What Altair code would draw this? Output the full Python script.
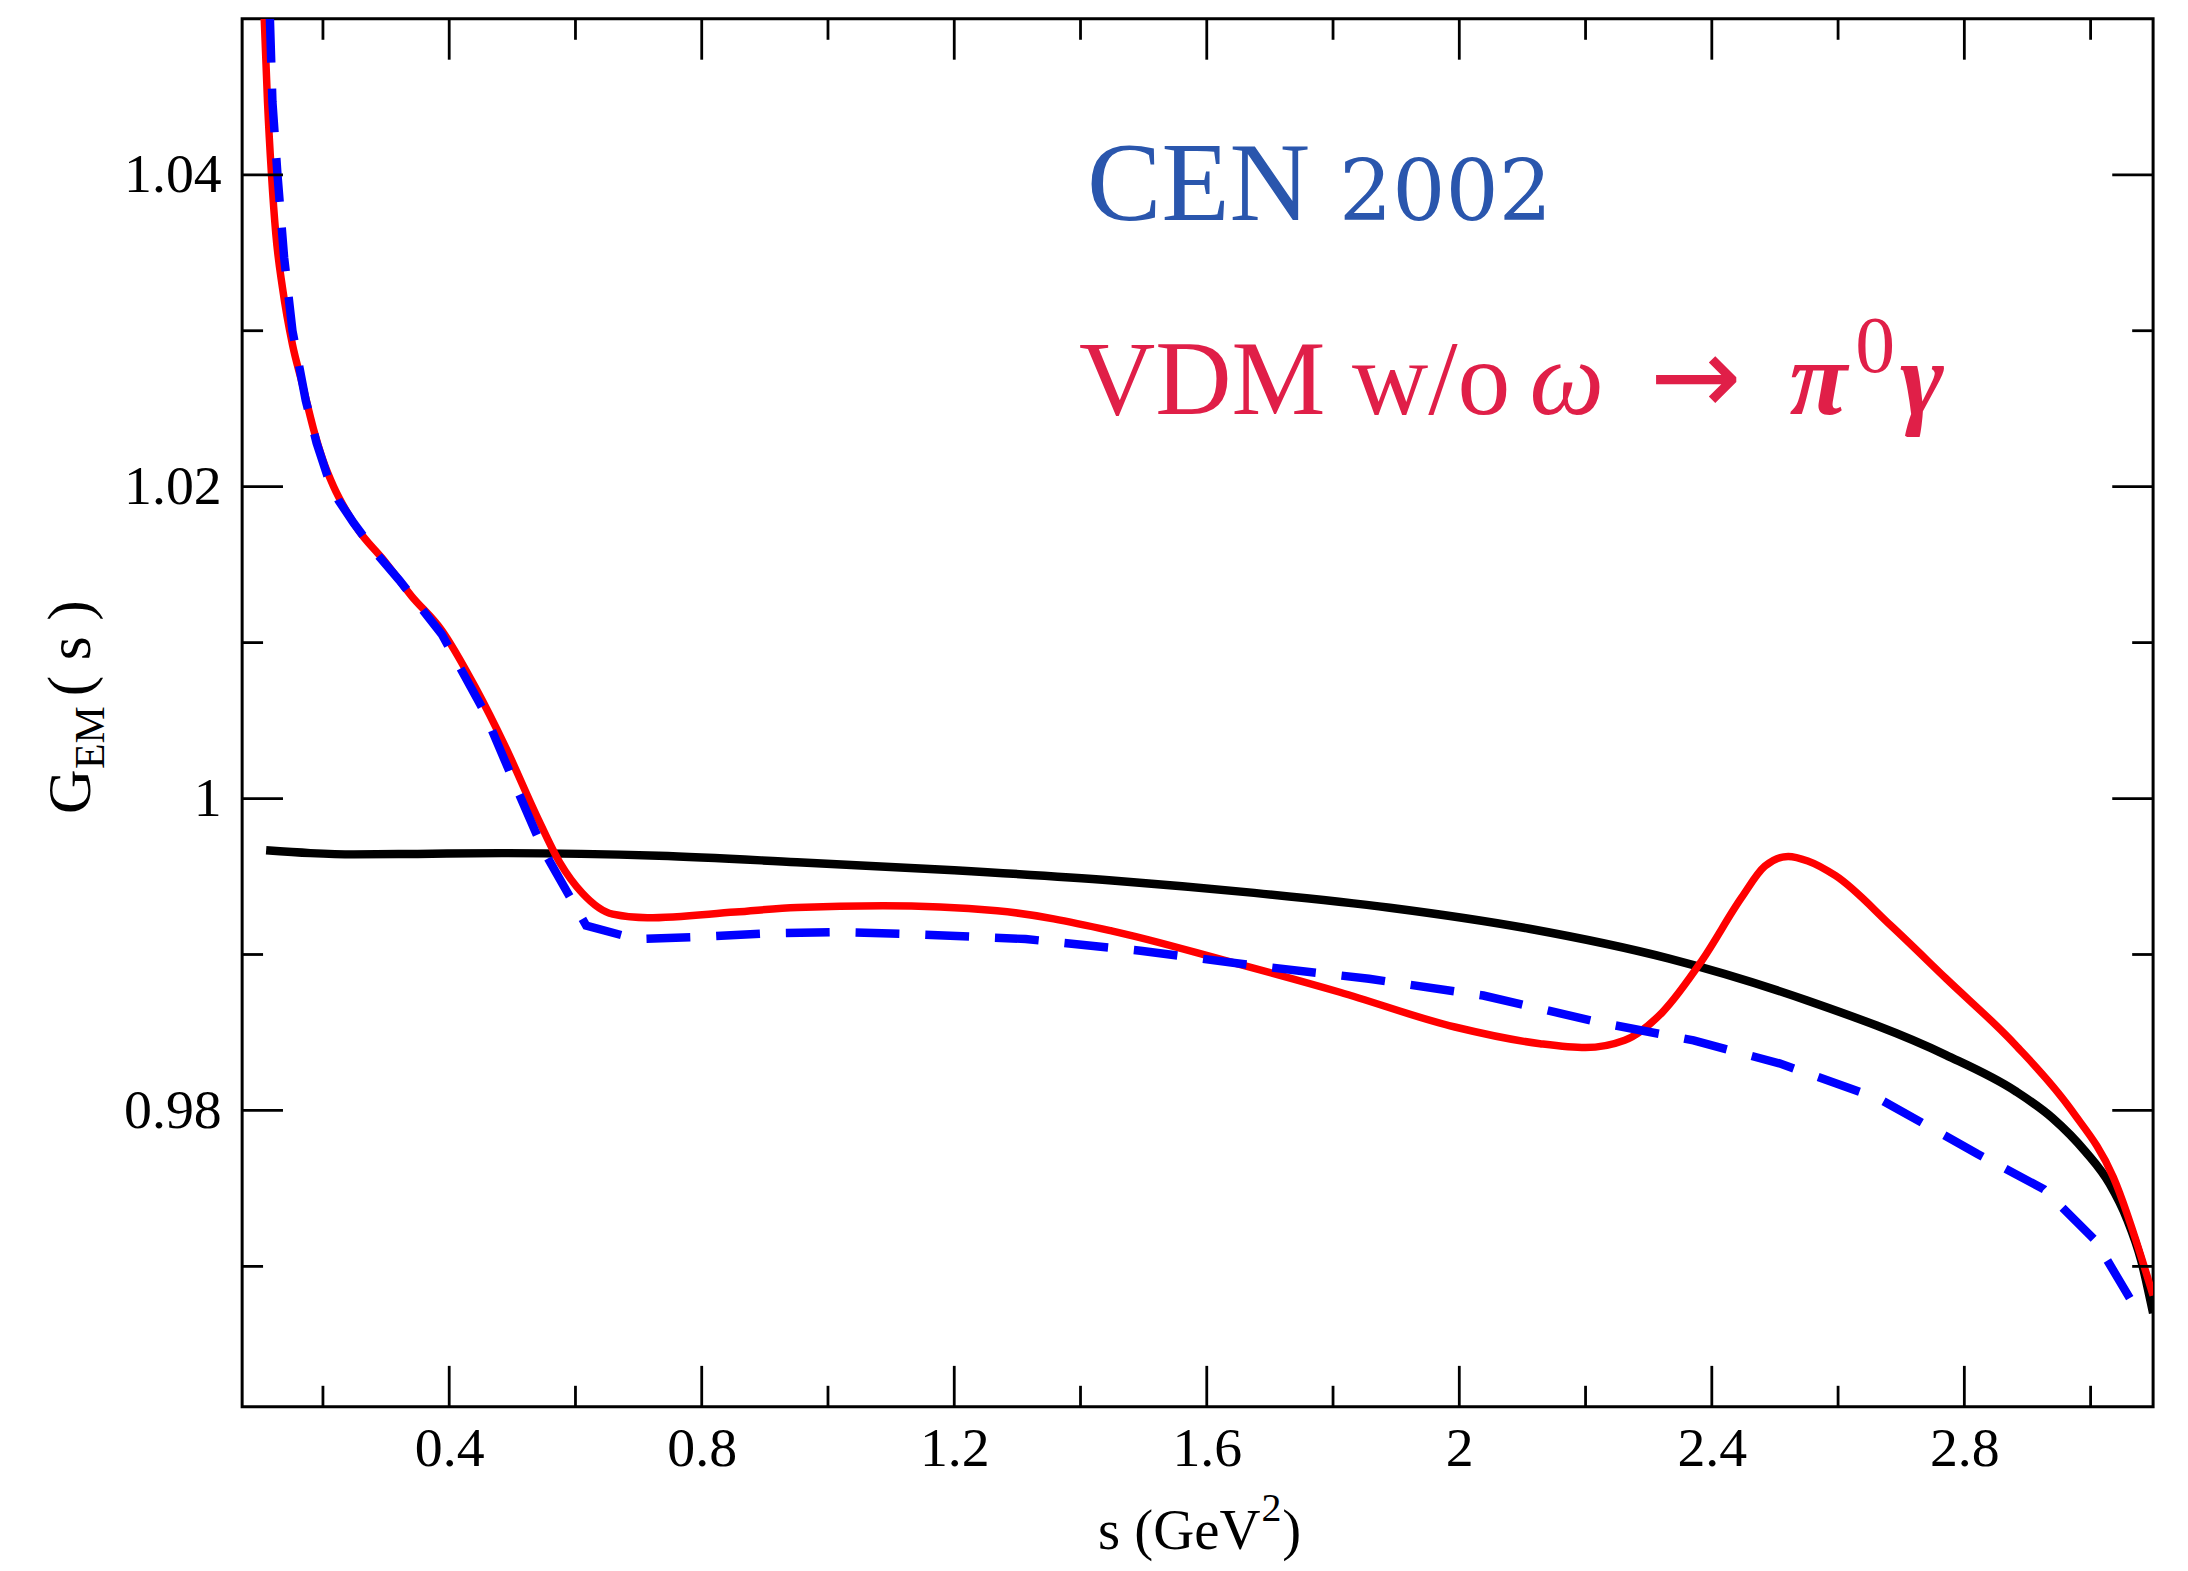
import altair as alt
import pandas as pd

# ---------------- data ----------------
s_black = [0.110, 0.18, 0.249, 0.35, 0.49, 0.732, 0.951, 1.2, 1.45, 1.675, 1.89, 2.111,
           2.331, 2.551, 2.771, 2.881, 2.940, 2.992, 3.030, 3.058, 3.080, 3.099]
g_black = [0.99668, 0.99650, 0.99642, 0.99645, 0.99650, 0.99633, 0.99592, 0.99540, 0.99475,
           0.99395, 0.99300, 0.99165, 0.98975, 0.98705, 0.98355, 0.98124, 0.97950, 0.97735,
           0.97530, 0.97300, 0.97040, 0.96700]

s_red = [0.107, 0.1122, 0.1185, 0.1254, 0.1359, 0.1517, 0.1675, 0.185, 0.200, 0.217, 0.237,
         0.257, 0.294, 0.340, 0.388, 0.441, 0.490, 0.539, 0.575, 0.611, 0.659, 0.714, 0.853,
         0.951, 1.087, 1.268, 1.449, 1.630, 1.811, 1.993, 2.128, 2.200, 2.262, 2.322, 2.384,
         2.447, 2.484, 2.521, 2.552, 2.596, 2.684, 2.771, 2.881, 2.970, 3.036, 3.099]
g_red = [1.0500, 1.04466, 1.0400, 1.03617, 1.03275, 1.02911, 1.02656, 1.0237, 1.0217, 1.0200,
         1.01845, 1.01717, 1.0154, 1.0130, 1.0108, 1.00716, 1.00323, 0.99885, 0.99591, 0.99393,
         0.99259, 0.99235, 0.99272, 0.99302, 0.99312, 0.99280, 0.99152, 0.98961, 0.98758,
         0.98535, 0.98428, 0.98403, 0.98450, 0.98631, 0.98959, 0.99364, 0.99566, 0.99629,
         0.99600, 0.99505, 0.99184, 0.98846, 0.98420, 0.98000, 0.97572, 0.96813]

s_blue = [0.116, 0.120, 0.128, 0.1385, 0.1517, 0.1727, 0.190, 0.207, 0.225, 0.249, 0.285,
          0.321, 0.388, 0.454, 0.508, 0.550, 0.617, 0.696, 0.792, 0.913, 1.014, 1.132, 1.313,
          1.495, 1.675, 1.857, 2.038, 2.219, 2.371, 2.507, 2.665, 2.821, 2.926, 3.008, 3.080]
g_blue = [1.0500, 1.04466, 1.0400, 1.0347, 1.0300, 1.02553, 1.0228, 1.0207, 1.0191, 1.01765,
          1.0157, 1.0140, 1.01055, 1.00569, 1.00054, 0.99663, 0.99185, 0.99099, 0.99112,
          0.99137, 0.99144, 0.99131, 0.99099, 0.99024, 0.98929, 0.98844, 0.98737, 0.98567,
          0.98449, 0.98302, 0.98075, 0.97721, 0.97495, 0.97165, 0.96673]

x_major = [0.4, 0.8, 1.2, 1.6, 2.0, 2.4, 2.8]
x_minor = [0.2, 0.6, 1.0, 1.4, 1.8, 2.2, 2.6, 3.0]
y_major = [0.98, 1.0, 1.02, 1.04]
y_minor = [0.97, 0.99, 1.01, 1.03]

x_title_main = ["s (GeV"]
x_title_sup = ["2"]
x_title_close = [")"]
y_title_main = ["G"]
y_title_sub = ["EM"]
y_title_rest = ["( s )"]
ann1_a = ["CEN"]
ann1_b = ["2002"]
ann2_a = ["VDM w/o"]
ann2_omega = ["ω"]
ann2_arrow = ["→"]
ann2_pi = ["π"]
ann2_sup = ["0"]
ann2_gamma = ["γ"]

# ---------------- layout ----------------
W, H = 1918, 1393
FONT = "Liberation Serif"
X_DOMAIN = [0.072, 3.099]
Y_DOMAIN = [0.961, 1.05]
xs = alt.Scale(domain=X_DOMAIN, nice=False, zero=False)
ys = alt.Scale(domain=Y_DOMAIN, nice=False, zero=False)
MAJ, MIN = 41, 21
BLUE_T = "#2a56ad"
RED_T = "#e01f48"

x_axis = alt.Axis(values=x_major, labelExpr="format(datum.value, '~g')", ticks=False, tickSize=0,
                  grid=False, domain=False, labelPadding=15, labelFont=FONT, labelFontSize=56,
                  labelColor="black", labelFlush=False, labelOverlap=False, title=None)
y_axis = alt.Axis(values=y_major, labelExpr="format(datum.value, '~g')", ticks=False, tickSize=0,
                  grid=False, domain=False, labelPadding=21, labelFont=FONT, labelFontSize=56,
                  labelColor="black", labelFlush=False, labelOverlap=False, title=None)


def X():
    return alt.X("s:Q", scale=xs, axis=x_axis, title=None)


def Y():
    return alt.Y("G:Q", scale=ys, axis=y_axis, title=None)


def line(s, g, color, width, interp, dash=None):
    df = pd.DataFrame({"s": s, "G": g})
    kw = dict(color=color, strokeWidth=width, interpolate=interp, clip=True)
    if dash:
        kw["strokeDash"] = dash
        kw["strokeCap"] = "butt"
    return alt.Chart(df).mark_line(**kw).encode(x=X(), y=Y())


layers = []
layers.append(line(s_black, g_black, "black", 8.5, "monotone"))
layers.append(line(s_red, g_red, "#ff0000", 7.5, "monotone"))
layers.append(line(s_blue, g_blue, "#0000ff", 8.5, "linear", dash=[44, 26]))

# inward ticks on all four sides
for vals, ln in ((x_major, MAJ), (x_minor, MIN)):
    d = pd.DataFrame({"s": vals})
    layers.append(alt.Chart(d).mark_rule(color="black", strokeWidth=2.8).encode(
        x=X(), y=alt.value(H), y2=alt.value(H - ln)))
    layers.append(alt.Chart(d).mark_rule(color="black", strokeWidth=2.8).encode(
        x=X(), y=alt.value(0), y2=alt.value(ln)))
for vals, ln in ((y_major, MAJ), (y_minor, MIN)):
    d = pd.DataFrame({"G": vals})
    layers.append(alt.Chart(d).mark_rule(color="black", strokeWidth=2.8).encode(
        y=Y(), x=alt.value(0), x2=alt.value(ln)))
    layers.append(alt.Chart(d).mark_rule(color="black", strokeWidth=2.8).encode(
        y=Y(), x=alt.value(W), x2=alt.value(W - ln)))


def text(t, x, y, size, color="black", style="normal", weight="normal", angle=None,
         align="left", font=FONT):
    kw = dict(align=align, baseline="alphabetic", font=font, fontSize=size, color=color,
              fontStyle=style, fontWeight=weight)
    if angle is not None:
        kw["angle"] = angle
    return alt.Chart(pd.DataFrame({"t": t})).mark_text(**kw).encode(
        x=alt.value(x), y=alt.value(y), text="t:N")


# x axis title  s (GeV^2)
layers.append(text(x_title_main, 859, 1536, 57))
layers.append(text(x_title_sup, 1023, 1508, 40))
layers.append(text(x_title_close, 1044, 1536, 57))

# y axis title  G_EM ( s )
layers.append(text(y_title_main, -153, 798, 62, angle=270))
layers.append(text(y_title_sub, -139, 753, 42, angle=270))
layers.append(text(y_title_rest, -153, 680, 62, angle=270))

# annotations
layers.append(text(ann1_a, 848, 202, 112, BLUE_T))
layers.append(text(ann1_b, 1101, 202, 84, BLUE_T, font="DejaVu Serif"))
layers.append(text(ann2_a, 840, 397, 106, RED_T))
layers.append(text(ann2_omega, 1292, 397, 106, RED_T, style="italic"))
layers.append(text(ann2_arrow, 1459, 397, 110, RED_T, align="center", font="DejaVu Sans"))
layers.append(text(ann2_pi, 1553, 397, 106, RED_T, style="italic", weight="bold"))
layers.append(text(ann2_sup, 1619, 354, 80, RED_T))
layers.append(text(ann2_gamma, 1664, 397, 106, RED_T, style="italic", weight="bold"))

chart = alt.layer(*layers).properties(
    width=W, height=H,
    autosize=alt.AutoSizeParams(type="none"),
    padding={"left": 235, "top": 8, "right": 27, "bottom": 162},
    background="white",
).configure(font=FONT).configure_view(stroke="black", strokeWidth=3)

chart.save("out.html", embed_options={"renderer": "svg", "actions": False})
